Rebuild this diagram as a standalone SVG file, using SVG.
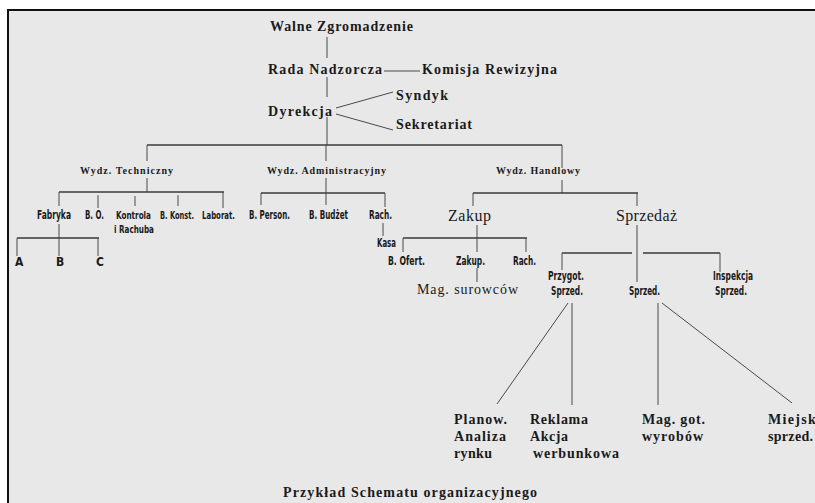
<svg xmlns="http://www.w3.org/2000/svg" width="815" height="503" viewBox="0 0 815 503">
<style>
.ln{stroke:#4a4a4a;stroke-width:1;fill:none}
.hl{stroke:#3a3a3a;stroke-width:1.6;fill:none}
.t{font-family:"Liberation Serif","DejaVu Serif",serif;fill:#1a1a1a}
.tb{font-family:"Liberation Serif","DejaVu Serif",serif;font-weight:bold;fill:#1a1a1a}
.big{font-size:14px}
.mid{font-size:16px}
.sm{font-size:10px}
.c{font-family:"DejaVu Sans Condensed","Liberation Sans",sans-serif;font-weight:bold;font-size:12px;fill:#1a1a1a}
.cs{font-size:11px}
</style>
<rect x="0" y="0" width="815" height="503" fill="#ffffff"/>
<rect x="8" y="10" width="820" height="500" fill="#e8e8e8"/>
<path d="M8,503 V10 H815" stroke="#111" stroke-width="2" fill="none"/>
<g id="connectors">
<path class="ln" d="M327,37 V58 M327,77 V97 M327,117 V145"/>
<path class="ln" d="M384,71 H420"/>
<path class="ln" d="M336,108 L393,92 M336,114 L393,130"/>
<path class="hl" d="M147,145 H562"/>
<path class="ln" d="M147,145 V161 M147,178 V192 M326,145 V161 M326,178 V193 M562,145 V168 M562,180 V193"/>
<path class="hl" d="M59,192 H224"/>
<path class="ln" d="M59,192 V206 M98,195 V208 M135,196 V206 M178,195 V206 M223,192 V208"/>
<path class="ln" d="M59,224 V238"/>
<path class="hl" d="M17,238 H99"/>
<path class="ln" d="M17,238 V256 M59,238 V256 M98,238 V256"/>
<path class="hl" d="M261,193 H385"/>
<path class="ln" d="M261,193 V205 M326,193 V205 M385,193 V207"/>
<path class="ln" d="M383,223 V236"/>
<path class="hl" d="M473,193 H638"/>
<path class="ln" d="M473,193 V206 M637,193 V206"/>
<path class="ln" d="M477,225 V238"/>
<path class="hl" d="M403,238 H527"/>
<path class="ln" d="M403,238 V252 M477,238 V252 M526,238 V252 M477,268 V282"/>
<path class="ln" d="M637,225 V282"/>
<path class="hl" d="M562,253 H632 M643,253 H720"/>
<path class="ln" d="M562,253 V270 M720,253 V272"/>
<path class="ln" d="M568,303 L497,404 M572,303 V405"/>
<path class="ln" d="M658,303 V405 M662,303 L792,403"/>
</g>
<g id="walne"><text class="tb big" x="270" y="31" textLength="143" lengthAdjust="spacing">Walne Zgromadzenie</text></g>
<g id="rada"><text class="tb big" x="268" y="74" textLength="114" lengthAdjust="spacing">Rada Nadzorcza</text></g>
<g id="komisja"><text class="tb big" x="422" y="74" textLength="135" lengthAdjust="spacing">Komisja Rewizyjna</text></g>
<g id="dyrekcja"><text class="tb big" x="268" y="116" textLength="64" lengthAdjust="spacing">Dyrekcja</text></g>
<g id="syndyk"><text class="tb big" x="396" y="100" textLength="52" lengthAdjust="spacing">Syndyk</text></g>
<g id="sekretariat"><text class="tb big" x="396" y="129" textLength="76" lengthAdjust="spacing">Sekretariat</text></g>
<g id="wydz-tech"><text class="tb sm" x="80" y="174" textLength="93" lengthAdjust="spacing">Wydz. Techniczny</text></g>
<g id="wydz-adm"><text class="tb sm" x="267" y="174" textLength="119" lengthAdjust="spacing">Wydz. Administracyjny</text></g>
<g id="wydz-handl"><text class="tb sm" x="496" y="174" textLength="84" lengthAdjust="spacing">Wydz. Handlowy</text></g>
<g id="fabryka"><text class="c" x="37" y="219" textLength="34" lengthAdjust="spacingAndGlyphs">Fabryka</text></g>
<g id="bo"><text class="c" x="85" y="219" textLength="19" lengthAdjust="spacingAndGlyphs">B. O.</text></g>
<g id="kontrola"><text class="c cs" x="116" y="219" textLength="35" lengthAdjust="spacingAndGlyphs">Kontrola</text><text class="c cs" x="114" y="233" textLength="40" lengthAdjust="spacingAndGlyphs">i Rachuba</text></g>
<g id="bkonst"><text class="c cs" x="160" y="219" textLength="34" lengthAdjust="spacingAndGlyphs">B. Konst.</text></g>
<g id="laborat"><text class="c cs" x="202" y="219" textLength="33" lengthAdjust="spacingAndGlyphs">Laborat.</text></g>
<g id="a"><text class="c" x="15" y="266">A</text></g>
<g id="b"><text class="c" x="56" y="266">B</text></g>
<g id="cc"><text class="c" x="96" y="266">C</text></g>
<g id="bperson"><text class="c" x="249" y="219" textLength="41" lengthAdjust="spacingAndGlyphs">B. Person.</text></g>
<g id="bbudzet"><text class="c" x="309" y="219" textLength="39" lengthAdjust="spacingAndGlyphs">B. Budżet</text></g>
<g id="rach-adm"><text class="c" x="369" y="219" textLength="23" lengthAdjust="spacingAndGlyphs">Rach.</text></g>
<g id="kasa"><text class="c" x="377" y="247" textLength="19" lengthAdjust="spacingAndGlyphs">Kasa</text></g>
<g id="zakup"><text class="t mid" x="448" y="221" textLength="43" lengthAdjust="spacing">Zakup</text></g>
<g id="sprzedaz"><text class="t mid" x="616" y="221" textLength="61" lengthAdjust="spacing">Sprzedaż</text></g>
<g id="bofert"><text class="c" x="388" y="265" textLength="37" lengthAdjust="spacingAndGlyphs">B. Ofert.</text></g>
<g id="zakup2"><text class="c" x="456" y="265" textLength="29" lengthAdjust="spacingAndGlyphs">Zakup.</text></g>
<g id="rach-zak"><text class="c" x="513" y="265" textLength="23" lengthAdjust="spacingAndGlyphs">Rach.</text></g>
<g id="mag-sur"><text class="t big" x="417" y="294" textLength="101" lengthAdjust="spacing">Mag. surowców</text></g>
<g id="przygot"><text class="c" x="548" y="280" textLength="36" lengthAdjust="spacingAndGlyphs">Przygot.</text><text class="c" x="551" y="295" textLength="32" lengthAdjust="spacingAndGlyphs">Sprzed.</text></g>
<g id="sprzed"><text class="c" x="629" y="295" textLength="31" lengthAdjust="spacingAndGlyphs">Sprzed.</text></g>
<g id="inspekcja"><text class="c" x="713" y="280" textLength="40" lengthAdjust="spacingAndGlyphs">Inspekcja</text><text class="c" x="715" y="295" textLength="32" lengthAdjust="spacingAndGlyphs">Sprzed.</text></g>
<g id="planow"><text class="tb big" x="454" y="424" textLength="53" lengthAdjust="spacing">Planow.</text><text class="tb big" x="454" y="441" textLength="52" lengthAdjust="spacing">Analiza</text><text class="tb big" x="454" y="458" textLength="38" lengthAdjust="spacing">rynku</text></g>
<g id="reklama"><text class="tb big" x="530" y="424" textLength="58" lengthAdjust="spacing">Reklama</text><text class="tb big" x="530" y="441" textLength="38" lengthAdjust="spacing">Akcja</text><text class="tb big" x="533" y="458" textLength="86" lengthAdjust="spacing">werbunkowa</text></g>
<g id="mag-got"><text class="tb big" x="642" y="424" textLength="63" lengthAdjust="spacing">Mag. got.</text><text class="tb big" x="642" y="441" textLength="61" lengthAdjust="spacing">wyrobów</text></g>
<g id="miejska"><text class="tb big" x="768" y="424" textLength="56" lengthAdjust="spacing">Miejska</text><text class="tb big" x="768" y="441" textLength="45" lengthAdjust="spacing">sprzed.</text></g>
<g id="caption"><text class="tb big" x="283" y="497" textLength="254" lengthAdjust="spacing">Przykład Schematu organizacyjnego</text></g>
</svg>
